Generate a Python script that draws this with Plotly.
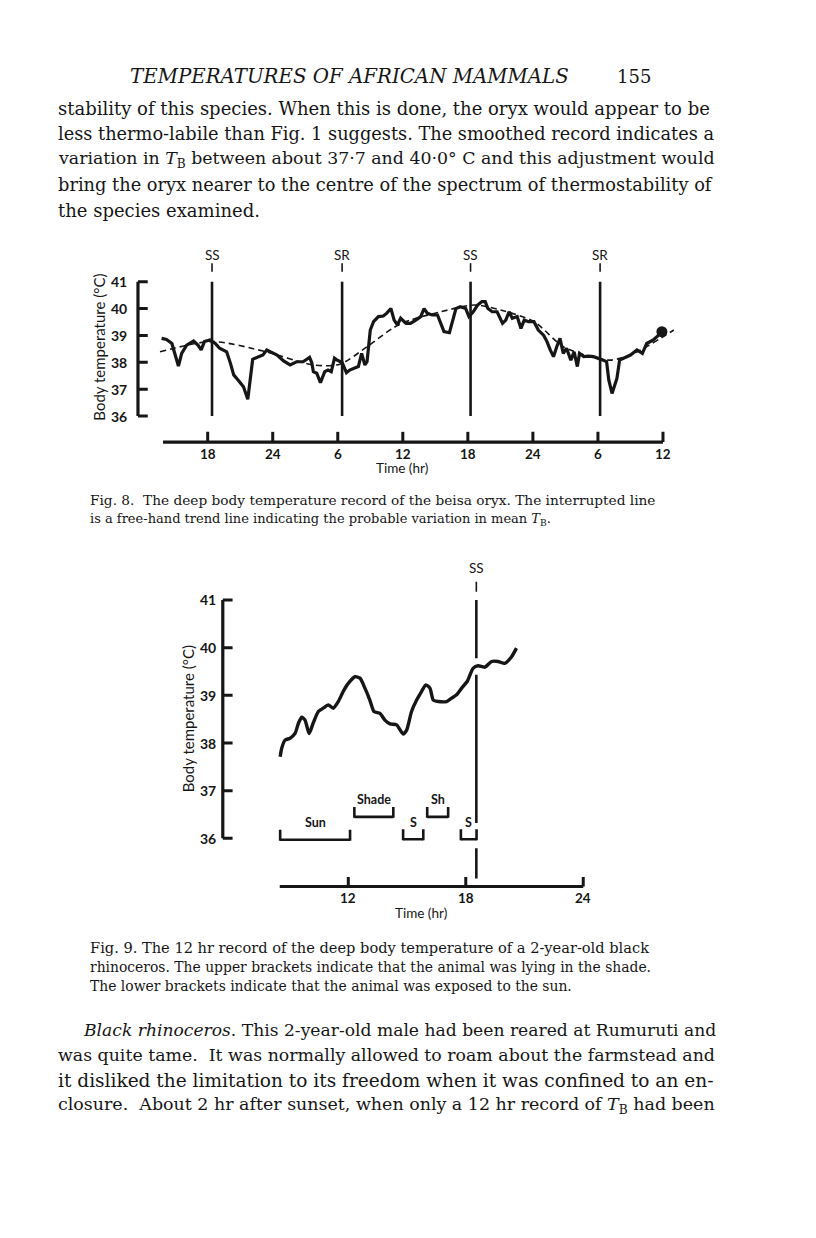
import plotly.graph_objects as go

# The page is drawn inside an 8 px body margin, so the figure is 16 px smaller than the window
OFF = 8
W, H = 816 - 2 * OFF, 1238 - 2 * OFF

# ---------------- Fig. 8 : beisa oryx ----------------
oryx_hours = [13.75, 14.2, 14.7, 15.0, 15.3, 15.6, 16.06, 16.7, 17.1, 17.4, 17.7, 18.2, 18.7, 19.1,
              19.75, 20.1, 20.4, 20.8, 21.3, 21.7, 22.0, 22.15, 22.7, 23.1, 23.45, 23.75, 24.4, 25.0,
              25.6, 26.2, 26.8, 27.4, 27.6, 27.75, 28.06, 28.4, 28.8, 29.1, 29.4, 29.7, 29.9, 30.4,
              30.8, 31.1, 31.45, 31.9, 32.2, 32.5, 32.7, 33.0, 33.3, 33.75, 34.2, 34.5, 34.9, 35.2,
              35.5, 35.8, 36.3, 36.7, 37.2, 37.65, 37.96, 38.27, 38.7, 39.2, 39.5, 39.8, 40.3, 40.6,
              40.9, 41.3, 41.8, 42.1, 42.5, 42.9, 43.3, 43.6, 43.85, 44.25, 44.7, 45.2, 45.5, 45.8,
              46.1, 46.55, 46.9, 47.2, 47.6, 48.1, 48.5, 49.0, 49.3, 49.6, 49.9, 50.2, 50.5, 50.8,
              51.1, 51.5, 51.8, 52.1, 52.3, 52.7, 53.1, 53.6, 54.1, 54.5, 54.8, 55.0, 55.3, 55.5,
              55.75, 56.0, 56.4, 57.0, 57.6, 58.1, 58.5, 59.1, 59.6, 59.9]
oryx_temp = [38.89, 38.85, 38.7, 38.27, 37.86, 38.33, 38.64, 38.79, 38.64, 38.46, 38.77, 38.83, 38.7, 38.52,
             38.39, 37.96, 37.53, 37.34, 37.09, 36.62, 37.59, 38.11, 38.21, 38.27, 38.46, 38.39, 38.27, 38.05,
             37.9, 38.02, 38.02, 38.18, 37.99, 37.65, 37.59, 37.24, 37.65, 37.71, 37.65, 38.15, 38.09, 37.99,
             37.61, 37.71, 37.77, 37.84, 38.33, 37.9, 38.02, 39.2, 39.51, 39.7, 39.72, 39.82, 40.0, 39.57,
             39.39, 39.64, 39.45, 39.45, 39.57, 39.7, 40.0, 39.82, 39.76, 39.76, 39.45, 39.14, 39.1, 39.57,
             40.0, 40.07, 40.0, 39.7, 39.88, 40.13, 40.26, 40.26, 40.0, 39.88, 39.88, 39.45, 39.57, 39.88,
             39.64, 39.7, 39.26, 39.57, 39.51, 39.51, 39.2, 39.0, 38.77, 38.46, 38.21, 38.58, 38.89, 38.33,
             38.52, 38.08, 38.39, 37.84, 38.33, 38.21, 38.23, 38.21, 38.15, 38.08, 38.02, 37.34, 36.84, 37.09,
             37.4, 38.08, 38.15, 38.27, 38.46, 38.33, 38.7, 38.83, 39.01, 39.14]
oryx_trend_hours = [13.6, 18.4, 23.4, 27.75, 30.2, 32.7, 35.2, 36.7, 39.5, 42.6, 45.0, 48.1, 50.8,
                    53.3, 55.1, 57.0, 61.0]
oryx_trend_temp = [38.39, 38.77, 38.39, 37.9, 37.93, 38.58, 39.3, 39.57, 39.88, 40.13, 39.95, 39.51,
                   38.58, 38.21, 38.08, 38.27, 39.2]
oryx_end_hour = [59.9]
oryx_end_temp = [39.14]
fig8_event_hours = [18.4, 30.4, 42.25, 54.2]
fig8_event_labels = ["SS", "SR", "SS", "SR"]
fig8_xtick_hours = [18, 24, 30, 36, 42, 48, 54, 60]
fig8_xtick_labels = ["18", "24", "6", "12", "18", "24", "6", "12"]

temp_ticks = [36, 37, 38, 39, 40, 41]
temp_tick_labels = ["36", "37", "38", "39", "40", "41"]

# ---------------- Fig. 9 : black rhinoceros ----------------
rhino_hours = [8.52, 8.6, 8.77, 9.03, 9.28, 9.45, 9.62, 9.79, 10.0, 10.2, 10.47, 10.72, 10.98, 11.23,
               11.49, 11.74, 12.0, 12.34, 12.6, 12.85, 13.1, 13.31, 13.62, 13.87, 14.13, 14.47, 14.8,
               14.98, 15.23, 15.49, 15.74, 15.96, 16.17, 16.34, 16.6, 17.02, 17.28, 17.53, 17.79, 18.07,
               18.38, 18.63, 18.97, 19.32, 19.65, 19.99, 20.34, 20.59]
rhino_temp = [37.71, 37.89, 38.06, 38.10, 38.20, 38.41, 38.54, 38.48, 38.20, 38.41, 38.66, 38.73, 38.80,
              38.73, 38.87, 39.08, 39.25, 39.39, 39.36, 39.15, 38.90, 38.66, 38.62, 38.48, 38.40, 38.38,
              38.19, 38.27, 38.66, 38.90, 39.08, 39.22, 39.15, 38.90, 38.87, 38.87, 38.94, 39.01, 39.15,
              39.29, 39.57, 39.62, 39.59, 39.71, 39.71, 39.67, 39.81, 39.99]
fig9_event_hours = [18.54]
fig9_event_labels = ["SS"]
fig9_xtick_hours = [12, 18, 24]
fig9_xtick_labels = ["12", "18", "24"]
bracket_labels = ["Sun", "Shade", "S", "Sh", "S"]
bracket_start = [8.52, 12.31, 14.8, 16.03, 17.75]
bracket_end = [12.09, 14.3, 15.83, 17.1, 18.55]
bracket_level = [35.97, 36.45, 35.98, 36.45, 35.98]

# ---------------- page text ----------------
header_text = "<i>TEMPERATURES OF AFRICAN MAMMALS</i>"
page_number = "155"
para1_lines = [
    "stability of this species. When this is done, the oryx would appear to be",
    "less thermo-labile than Fig. 1 suggests. The smoothed record indicates a",
    "variation in <i>T</i><sub>B</sub> between about 37·7 and 40·0° C and this adjustment would",
    "bring the oryx nearer to the centre of the spectrum of thermostability of",
    "the species examined.",
]
caption8_lines = [
    "Fig. 8.  The deep body temperature record of the beisa oryx. The interrupted line",
    "is a free-hand trend line indicating the probable variation in mean <i>T</i><sub>B</sub>.",
]
caption9_lines = [
    "Fig. 9. The 12 hr record of the deep body temperature of a 2-year-old black",
    "rhinoceros. The upper brackets indicate that the animal was lying in the shade.",
    "The lower brackets indicate that the animal was exposed to the sun.",
]
para2_lines = [
    "<i>Black rhinoceros</i>. This 2-year-old male had been reared at Rumuruti and",
    "was quite tame.  It was normally allowed to roam about the farmstead and",
    "it disliked the limitation to its freedom when it was confined to an en-",
    "closure.  About 2 hr after sunset, when only a 12 hr record of <i>T</i><sub>B</sub> had been",
]
# per-line font sizes (style only) to imitate the justified setting of the page
para1_sizes = [18, 17.75, 17.35, 17.8, 18]
caption8_sizes = [13.7, 13.0]
caption9_sizes = [14.6, 13.9, 13.9]
para2_sizes = [17.15, 17.35, 18.55, 17.45]

INK = "#161616"
SERIF = "DejaVu Serif"
SANS = "Lato"

fig = go.Figure()

# ---- Fig 8 traces ----
fig.add_trace(go.Scatter(x=oryx_trend_hours, y=oryx_trend_temp, mode="lines", xaxis="x", yaxis="y",
                         line=dict(color=INK, width=1.6, dash="6px,4px", shape="spline", smoothing=0.8),
                         hoverinfo="skip"))
fig.add_trace(go.Scatter(x=oryx_hours, y=oryx_temp, mode="lines", xaxis="x", yaxis="y",
                         line=dict(color=INK, width=3.2), hoverinfo="skip"))
fig.add_trace(go.Scatter(x=oryx_end_hour, y=oryx_end_temp, mode="markers", xaxis="x", yaxis="y",
                         marker=dict(color=INK, size=11), hoverinfo="skip"))

# ---- Fig 9 traces ----
fig.add_trace(go.Scatter(x=rhino_hours, y=rhino_temp, mode="lines", xaxis="x2", yaxis="y2",
                         line=dict(color=INK, width=3.4, shape="spline", smoothing=0.6), hoverinfo="skip"))

shapes = []
ann = []


def seg(xr, yr, x0, y0, x1, y1, w=3.0):
    shapes.append(dict(type="line", xref=xr, yref=yr, x0=x0, y0=y0, x1=x1, y1=y1,
                       line=dict(color=INK, width=w)))


def txt(xr, yr, x, y, s, size, xa="center", ya="middle", angle=0, **kw):
    ann.append(dict(xref=xr, yref=yr, x=x, y=y, text=s, showarrow=False, xanchor=xa, yanchor=ya,
                    textangle=angle, font=dict(family=SANS, size=size, color=INK, **kw)))


# ---- Fig 8 axes ----
y8_axis_x = 11.57
seg("x", "y", y8_axis_x, temp_ticks[0], y8_axis_x, temp_ticks[-1], 3.2)
for v, lab in zip(temp_ticks, temp_tick_labels):
    seg("x", "y", y8_axis_x, v, y8_axis_x + 0.9, v, 3.0)
    txt("x", "y", y8_axis_x - 0.8, v, lab, 14, xa="right", weight="bold")
txt("x", "y", 7.9, 38.55, "Body temperature (°C)", 15, angle=-90)
x8_line_y = 35.03
seg("x", "y", 13.88, x8_line_y, fig8_xtick_hours[-1], x8_line_y, 3.2)
for v, lab in zip(fig8_xtick_hours, fig8_xtick_labels):
    seg("x", "y", v, x8_line_y, v, x8_line_y + 0.38, 3.0)
    txt("x", "y", v, 34.58, lab, 13.5, weight="bold")
txt("x", "y", 35.9, 34.08, "Time (hr)", 13.5)
for v, lab in zip(fig8_event_hours, fig8_event_labels):
    seg("x", "y", v, 36.0, v, 41.0, 2.6)
    seg("x", "y", v, 41.37, v, 41.69, 1.6)
    txt("x", "y", v, 41.99, lab, 13.5)

# ---- Fig 9 axes ----
y9_axis_x = 5.59
seg("x2", "y2", y9_axis_x, temp_ticks[0], y9_axis_x, temp_ticks[-1], 3.2)
for v, lab in zip(temp_ticks, temp_tick_labels):
    seg("x2", "y2", y9_axis_x, v, y9_axis_x + 0.5, v, 3.0)
    txt("x2", "y2", y9_axis_x - 0.22, v, lab, 14, xa="right", weight="bold")
txt("x2", "y2", 3.82, 38.5, "Body temperature (°C)", 15, angle=-90)
x9_line_y = 34.99
seg("x2", "y2", 8.5, x9_line_y, fig9_xtick_hours[-1], x9_line_y, 3.2)
for v, lab in zip(fig9_xtick_hours, fig9_xtick_labels):
    seg("x2", "y2", v, x9_line_y, v, x9_line_y + 0.2, 3.0)
    txt("x2", "y2", v, 34.74, lab, 13.5, weight="bold")
txt("x2", "y2", 15.7, 34.43, "Time (hr)", 13.5)
for v, lab in zip(fig9_event_hours, fig9_event_labels):
    seg("x2", "y2", v, 39.78, v, 41.0, 2.6)
    seg("x2", "y2", v, 36.32, v, 39.43, 2.6)
    seg("x2", "y2", v, 35.16, v, 35.79, 2.6)
    seg("x2", "y2", v, 41.17, v, 41.38, 1.6)
    txt("x2", "y2", v, 41.67, lab, 13.5)
for lab, a, b, lv in zip(bracket_labels, bracket_start, bracket_end, bracket_level):
    seg("x2", "y2", a, lv, b, lv, 2.6)
    seg("x2", "y2", a, lv - 0.02, a, lv + 0.21, 2.6)
    seg("x2", "y2", b, lv - 0.02, b, lv + 0.21, 2.6)
    txt("x2", "y2", (a + b) / 2, lv + 0.36, lab, 12.5, weight="bold")


# ---- page text (paper coords from page pixel positions) ----
def ptxt(px, py, s, size, xa="left"):
    ann.append(dict(xref="paper", yref="paper", x=(px - OFF) / W, y=1 - (py - OFF) / H, text=s,
                    showarrow=False, xanchor=xa, yanchor="middle",
                    font=dict(family=SERIF, size=size, color=INK)))


ptxt(349, 76, header_text, 19.8, xa="center")
ptxt(653, 76, page_number, 18, xa="right")
for i, (line, sz) in enumerate(zip(para1_lines, para1_sizes)):
    ptxt(56, 108.5 + i * 25.4, line, sz)
for i, (line, sz) in enumerate(zip(caption8_lines, caption8_sizes)):
    ptxt(88, 500 + i * 19.5, line, sz)
for i, (line, sz) in enumerate(zip(caption9_lines, caption9_sizes)):
    ptxt(88, 947 + i * 19.5, line, sz)
for i, (line, sz) in enumerate(zip(para2_lines, para2_sizes)):
    ptxt(81 if i == 0 else 56, 1029.5 + i * 25.4, line, sz)


def dx(p0, p1):
    return [(p0 - OFF) / W, (p1 - OFF) / W]


def dy(ptop, pbot):
    return [1 - (pbot - OFF) / H, 1 - (ptop - OFF) / H]


fig.update_layout(
    width=W, height=H, margin=dict(l=0, r=0, t=0, b=0),
    paper_bgcolor="white", plot_bgcolor="white", showlegend=False,
    xaxis=dict(domain=dx(77.6, 695.5), range=[6, 63], visible=False, fixedrange=True),
    yaxis=dict(domain=dy(238.7, 475.1), range=[33.8, 42.6], visible=False, fixedrange=True),
    xaxis2=dict(domain=dx(152.5, 622.4), range=[2, 26], visible=False, fixedrange=True),
    yaxis2=dict(domain=dy(552.3, 933.7), range=[34, 42], visible=False, fixedrange=True),
    shapes=shapes, annotations=ann,
)

fig.write_html("out.html")
